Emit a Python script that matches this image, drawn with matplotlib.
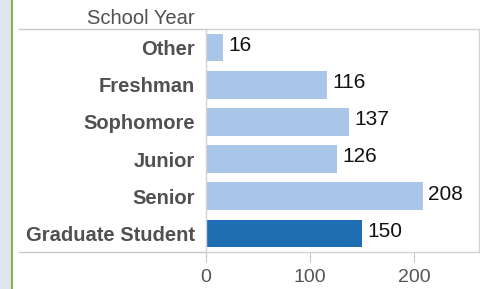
import matplotlib.pyplot as plt
from matplotlib.lines import Line2D
from matplotlib.patches import Rectangle

categories = ['Other', 'Freshman', 'Sophomore', 'Junior', 'Senior', 'Graduate Student']
counts = [16, 116, 137, 126, 208, 150]
highlight = 'Graduate Student'
xticks = [0, 100, 200]

plt.rcParams['font.family'] = ['Liberation Sans', 'DejaVu Sans']

W, H = 481, 289
fig = plt.figure(figsize=(W / 100, H / 100), dpi=100)
fig.patch.set_facecolor('white')

# left strip (photo edge + green rule)
fig.patches.append(Rectangle((0, 0), 11 / W, 1, transform=fig.transFigure,
                             facecolor='#dde6ec', edgecolor='none', zorder=0))
fig.lines.append(Line2D([11.5 / W, 11.5 / W], [0, 1], transform=fig.transFigure,
                        color='#8fb04c', lw=1.5))

x0, x1 = 206 / W, 479 / W
y_top, y_bot = 1 - 29 / H, 1 - 252 / H
ax = fig.add_axes([x0, y_bot, x1 - x0, y_top - y_bot])

ypos = list(range(len(categories)))
colors = ['#1f6db3' if c == highlight else '#a9c5e8' for c in categories]
ax.barh(ypos, counts, height=0.74, color=colors, zorder=2)
for y, v in zip(ypos, counts):
    ax.text(v + 5, y - 0.06, str(v), va='center', ha='left', fontsize=15, color='#111111')

ax.set_ylim(len(categories) - 0.5, -0.5)
ax.set_xlim(0, 262)
ax.set_yticks(ypos)
ax.set_yticklabels(categories, fontsize=14.5, fontweight='bold', color='#505050')
ax.tick_params(axis='y', length=0, pad=8)
ax.set_xticks(xticks)
ax.set_xticklabels([str(t) for t in xticks], fontsize=14, color='#555555')
ax.tick_params(axis='x', length=7, color='#c8c8c8', pad=5.5, direction='out')

for s in ['top', 'right', 'bottom', 'left']:
    ax.spines[s].set_color('#d4d4d4')
    ax.spines[s].set_linewidth(1.0)

# row-header rules extending left
for yy in (y_top, y_bot):
    fig.lines.append(Line2D([19 / W, x0], [yy, yy], transform=fig.transFigure,
                            color='#c8c8c8', lw=1.0))

fig.text(195 / W, 1 - 18 / H, 'School Year', ha='right', va='center',
         fontsize=14.5, color='#505050')

fig.savefig('out.png', dpi=100)
